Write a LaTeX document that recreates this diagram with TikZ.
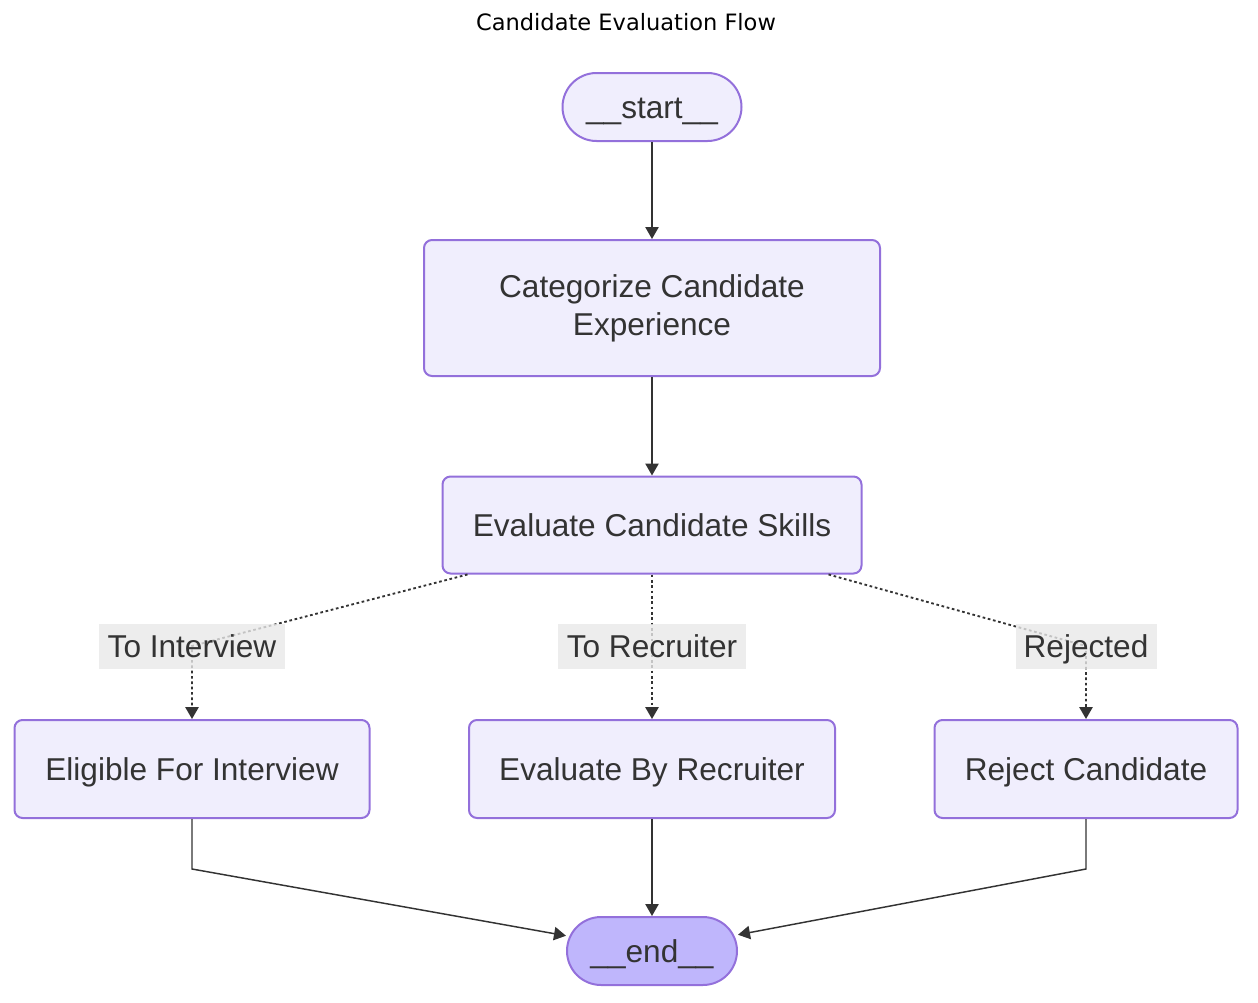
\documentclass[tikz,border=0pt]{standalone}
\usepackage{fontspec}
\setmainfont{Liberation Sans}
\newfontfamily\titlefont{DejaVu Sans}
\usetikzlibrary{arrows.meta}
\usetikzlibrary{calc}

\definecolor{nodefill}{HTML}{F0EEFD}
\definecolor{nodeline}{HTML}{9370DB}
\definecolor{endfill}{HTML}{BFB6FC}
\definecolor{inktext}{HTML}{333333}
\definecolor{lblfill}{HTML}{E8E8E8}

\tikzset{
  box/.style={draw=nodeline, fill=nodefill, line width=1.5pt, rounded corners=6pt,
    inner sep=0pt, text=inktext, align=center, text height=19.25pt, text depth=2.75pt,
    font=\fontsize{23.7}{28.5}\selectfont},
  pill/.style={box, rounded corners=25.5pt, minimum width=134.25pt, minimum height=51pt},
  lbl/.style={fill=lblfill, fill opacity=0.8, text opacity=1, inner sep=0pt,
    text=inktext, text height=19.25pt, text depth=2.75pt,
    font=\fontsize{23.7}{28.5}\selectfont},
  edge/.style={draw=inktext, line width=1.1pt, -{Triangle[length=9pt, width=10pt]}},
  cond/.style={edge, line width=1.4pt, dash pattern=on 2pt off 2pt}
}

\begin{document}
\begin{tikzpicture}[x=0.75pt, y=-0.75pt]
    \useasboundingbox (0,0) rectangle (1258,1003);

    \node[font=\titlefont\fontsize{16.9}{20}\selectfont] (title) at (626,22) {Candidate Evaluation Flow};

    \node[pill] (start) at (652,107) {\_\_start\_\_};
    \node[box, text height=, text depth=, minimum width=342pt, minimum height=102pt] (categorize) at (652,308) {Categorize Candidate\\Experience};
    \node[box, minimum width=314.25pt, minimum height=72.75pt] (skills) at (652,525) {Evaluate Candidate Skills};
    \node[box, minimum width=266.25pt, minimum height=73.5pt] (eligible) at (192,769) {Eligible For Interview};
    \node[box, minimum width=274.5pt, minimum height=73.5pt] (recruiter) at (652,769) {Evaluate By Recruiter};
    \node[box, minimum width=227.25pt, minimum height=73.5pt] (reject) at (1086,769) {Reject Candidate};
    \node[pill, fill=endfill, minimum width=127.5pt] (end) at (652,951) {\_\_end\_\_};

    \coordinate (cinterview) at (192,646);
    \coordinate (crecruiter) at (652,646);
    \coordinate (crejected) at (1086,646);

    \draw[edge] (start) -- (categorize);
    \draw[edge] (categorize) -- (skills);
    \draw[cond] ([xshift=19.5pt]skills.south west) -- (cinterview) -- (eligible.north);
    \draw[cond] (skills.south) -- (crecruiter) -- (recruiter.north);
    \draw[cond] ([xshift=-25.5pt]skills.south east) -- (crejected) -- (reject.north);
    \draw[edge] (eligible.south) -- ([yshift=-37.5pt]eligible.south) -- (end);
    \draw[edge] (recruiter) -- (end);
    \draw[edge] (reject.south) -- ([yshift=-37.5pt]reject.south) -- (end);

    \node[lbl, minimum width=139.5pt, minimum height=33.75pt] (linterview) at (cinterview) {To Interview};
    \node[lbl, minimum width=141pt, minimum height=33.75pt] (lrecruiter) at (crecruiter) {To Recruiter};
    \node[lbl, minimum width=105.75pt, minimum height=33.75pt] (lrejected) at (crejected) {Rejected};
  \end{tikzpicture}
\end{document}
